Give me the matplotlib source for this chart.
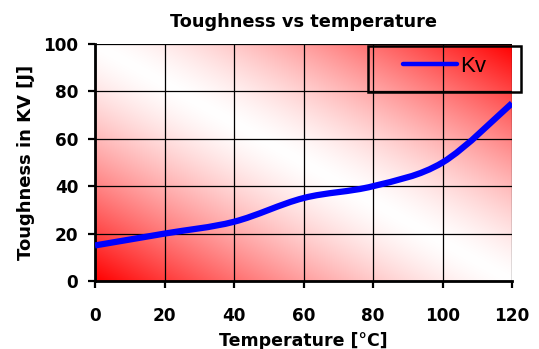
import numpy as np
import matplotlib
matplotlib.use("Agg")
import matplotlib.pyplot as plt
from matplotlib.path import Path
from matplotlib.patches import PathPatch, Rectangle
from matplotlib.lines import Line2D

temperature = [0, 20, 40, 60, 80, 100, 120]
toughness = [15, 20, 25, 35, 40, 50, 75]
x_ticks = [0, 20, 40, 60, 80, 100, 120]
y_ticks = [0, 20, 40, 60, 80, 100]

W, H = 539, 349
fig = plt.figure(figsize=(W / 100, H / 100), dpi=100)
ax = fig.add_axes([95 / W, 1 - 281 / H, (512 - 95) / W, (281 - 44) / H])

# diagonal gradient: red in two corners, white along the other diagonal
n = 300
gx, gy = np.meshgrid(np.linspace(0, 1, n), np.linspace(0, 1, n))
a = np.abs(gx + gy - 1) ** 1.4
img = np.dstack([np.ones_like(a), 1 - a, 1 - a])
ax.imshow(img, extent=[0, 1, 0, 1], origin='lower', transform=ax.transAxes,
          aspect='auto', zorder=0, interpolation='bilinear')


def smooth_path(xs, ys):
    # Catmull-Rom style bezier through every point
    pts = np.column_stack([xs, ys]).astype(float)
    verts = [pts[0]]
    codes = [Path.MOVETO]
    for i in range(len(pts) - 1):
        p0 = pts[i - 1] if i > 0 else pts[i]
        p1 = pts[i]
        p2 = pts[i + 1]
        p3 = pts[i + 2] if i + 2 < len(pts) else pts[i + 1]
        c1 = p1 + (p2 - p0) / 6
        c2 = p2 - (p3 - p1) / 6
        verts += [c1, c2, p2]
        codes += [Path.CURVE4] * 3
    return Path(verts, codes)


blue = '#0000ff'
ax.add_patch(PathPatch(smooth_path(temperature, toughness), facecolor='none',
                       edgecolor=blue, lw=4.5, capstyle='butt',
                       zorder=3, clip_on=True))

ax.set_xlim(0, 120)
ax.set_ylim(0, 100)
ax.set_xticks(x_ticks)
ax.set_yticks(y_ticks)
ax.grid(True, color='black', lw=0.9)
ax.set_axisbelow(False)
for s in ['top', 'right']:
    ax.spines[s].set_visible(False)
for s in ['left', 'bottom']:
    ax.spines[s].set_linewidth(2)
ax.tick_params(width=1.6, length=5, labelsize=12.2)
ax.tick_params(axis='y', pad=7)
ax.tick_params(axis='x', pad=13.5)
for lbl in ax.get_xticklabels() + ax.get_yticklabels():
    lbl.set_fontweight('bold')

ax.set_title('Toughness vs temperature', fontsize=12.8, fontweight='bold', pad=12.5)
ax.set_xlabel('Temperature [°C]', fontsize=12.5, fontweight='bold', labelpad=5.5)
ax.set_ylabel('Toughness in KV [J]', fontsize=13, fontweight='bold', labelpad=6)

# legend box
fig.patches.append(Rectangle((368 / W, 1 - 92 / H), (521 - 368) / W, 46 / H,
                             transform=fig.transFigure, facecolor='none',
                             edgecolor='black', lw=1.8, zorder=5))
handle = Line2D([], [], color=blue, lw=3.2, solid_capstyle='round')
ax.legend([handle], ['Kv'], loc='center left',
          bbox_to_anchor=(403 / W, 1 - 66 / H), bbox_transform=fig.transFigure,
          prop={'family': 'Liberation Sans', 'size': 16}, frameon=False,
          handlelength=2.45, borderaxespad=0, borderpad=0, handletextpad=0.12)

fig.savefig('out.png', dpi=100)
